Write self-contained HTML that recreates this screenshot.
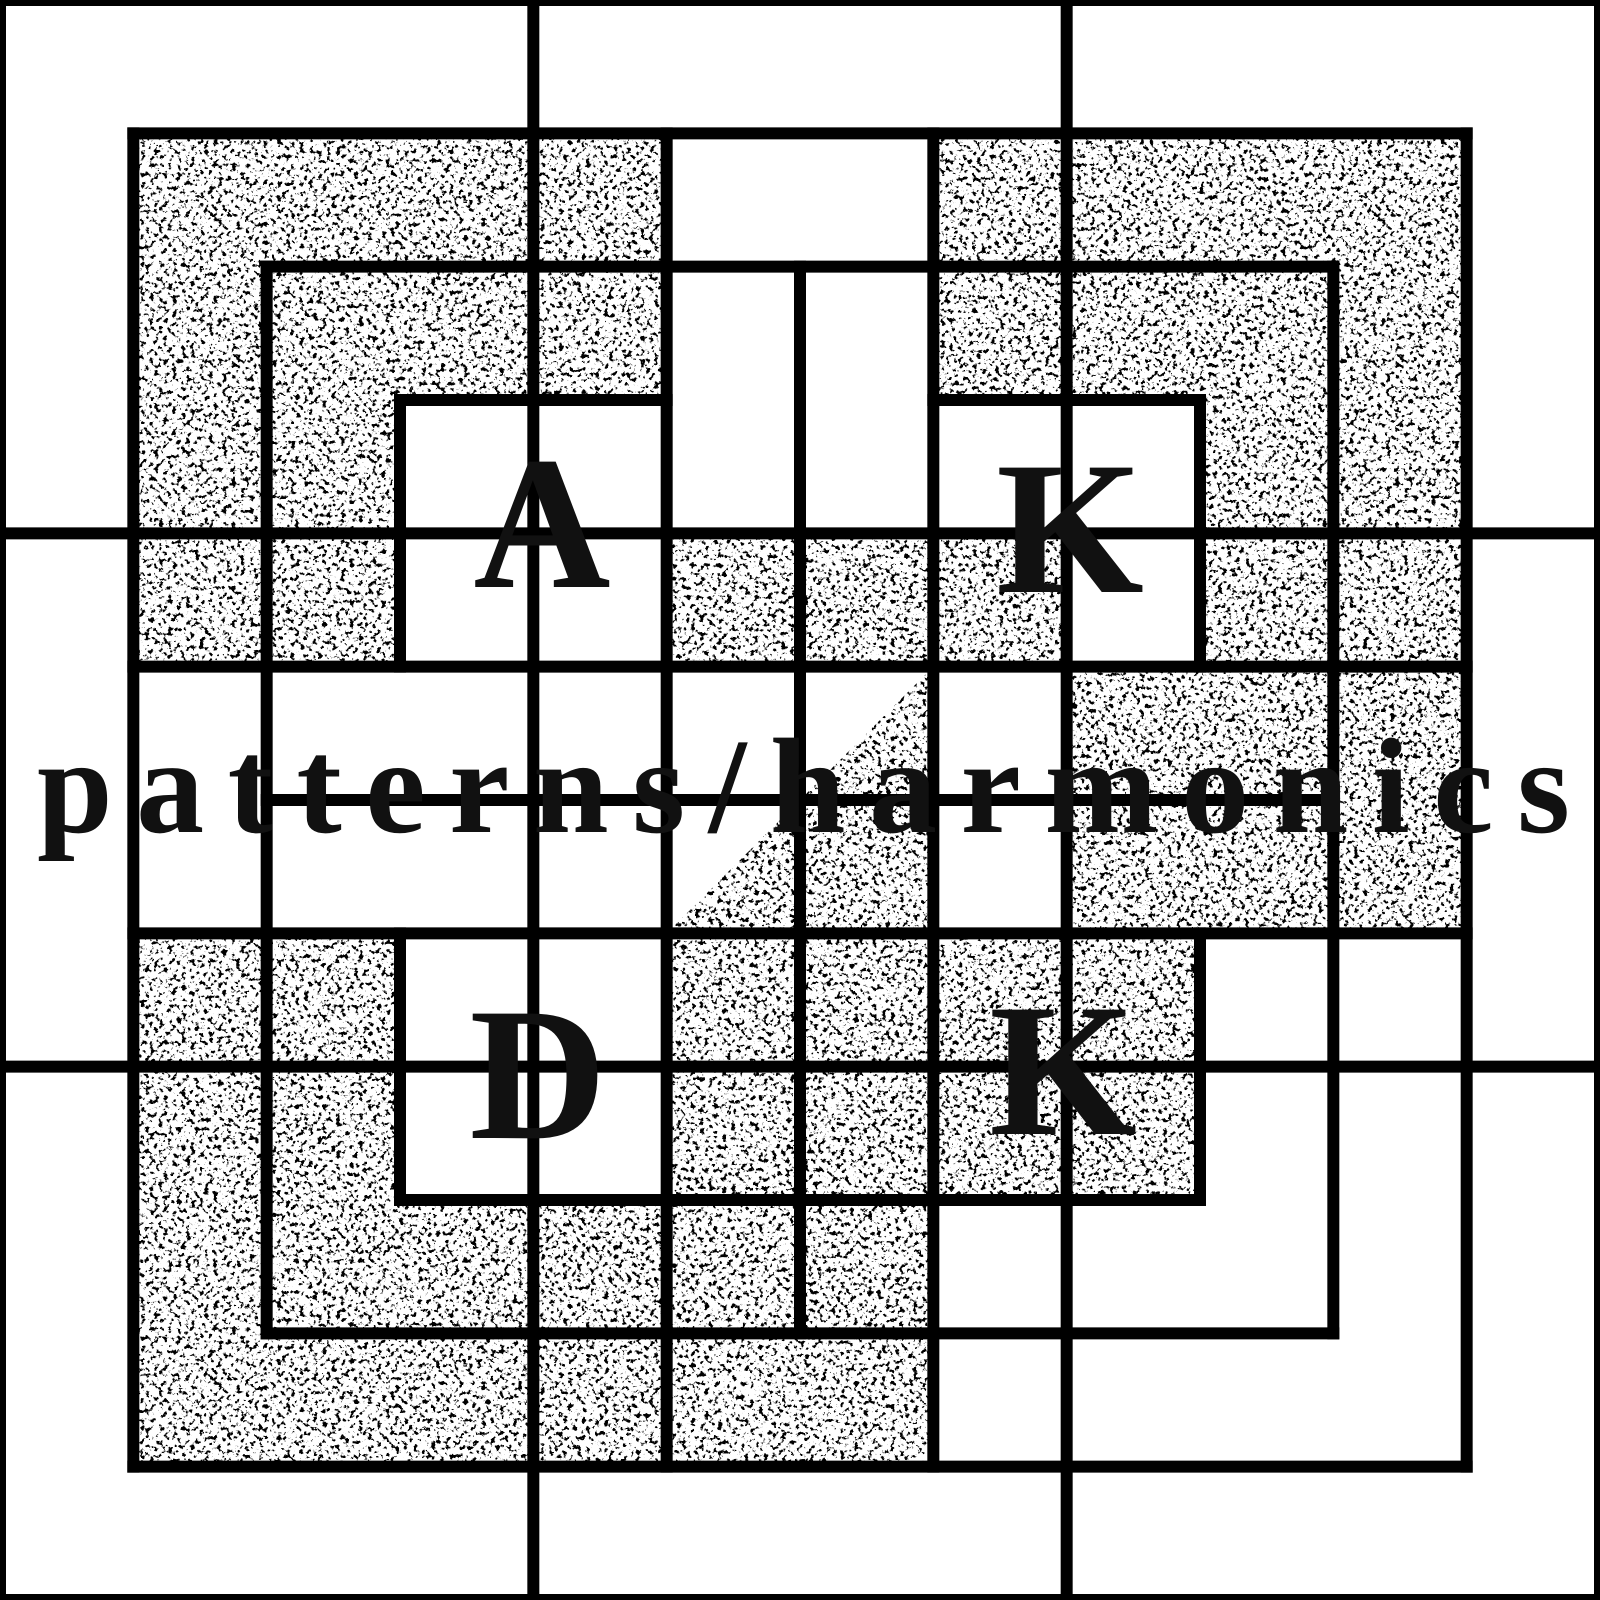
<!DOCTYPE html>
<html><head><meta charset="utf-8"><style>
html,body{margin:0;padding:0;background:#fff}
svg{display:block}
text{font-family:"Liberation Serif",serif;font-weight:bold;fill:#111}
</style></head><body>
<svg width="1600" height="1600" viewBox="0 0 1600 1600" xmlns="http://www.w3.org/2000/svg">
<defs>
<filter id="speckle" x="0" y="0" width="100%" height="100%">
<feTurbulence type="fractalNoise" baseFrequency="0.22" numOctaves="4" seed="7" result="n"/>
<feColorMatrix in="n" type="matrix" values="0 0 0 0 0  0 0 0 0 0  0 0 0 0 0  16 0 0 0 -9.2"/>
</filter>
<clipPath id="shadeClip">
<path id="shadePath" d=""/>
</clipPath>
</defs>
<rect width="1600" height="1600" fill="#fff"/>
<g clip-path="url(#shadeClip)">
<rect width="1600" height="1600" fill="#fff"/>
<rect width="1600" height="1600" fill="#000" filter="url(#speckle)"/>
</g>
<rect x="3" y="3" width="1594" height="1594" fill="none" stroke="#000" stroke-width="6"/>
<g id="lines" stroke="#000" stroke-width="12" stroke-linecap="square" fill="none"></g>
<text x="542" y="587" font-size="190" text-anchor="middle">A</text>
<text x="1070" y="592" font-size="190" text-anchor="middle">K</text>
<text x="538" y="1138" font-size="190" text-anchor="middle">D</text>
<text x="1063" y="1134" font-size="190" text-anchor="middle">K</text>
<text x="37" y="832" font-size="136" textLength="1533" lengthAdjust="spacing">patterns/harmonics</text>
</svg>
<script>
const U = 1600/12;
// shaded cells [col,row]
const shadedCells = [
 [1,1],[2,1],[3,1],[4,1],[7,1],[8,1],[9,1],[10,1],
 [1,2],[2,2],[3,2],[4,2],[7,2],[8,2],[9,2],[10,2],
 [1,3],[2,3],[9,3],[10,3],
 [1,4],[2,4],[5,4],[6,4],[7,4],[9,4],[10,4],
 [8,5],[9,5],[10,5],
 [8,6],[9,6],[10,6],
 [1,7],[2,7],[5,7],[6,7],[7,7],[8,7],
 [1,8],[2,8],[5,8],[6,8],[7,8],[8,8],
 [1,9],[2,9],[3,9],[4,9],[5,9],[6,9],
 [1,10],[2,10],[3,10],[4,10],[5,10],[6,10]
];
// triangle in grid units
const shadedTriangles = [[[7,5],[7,7],[5,7]]];
// line segments [x1,y1,x2,y2] in grid units
const segments = [
 [4,0,4,12],[8,0,8,12],[0,4,12,4],[0,8,12,8],
 [1,1,11,1],[1,11,11,11],[1,1,1,11],[11,1,11,11],
 [2,2,10,2],[2,10,10,10],[2,2,2,10],[10,2,10,10],
 [3,3,5,3],[7,3,9,3],[3,3,3,5],[9,3,9,5],[3,7,3,9],[9,7,9,9],[3,9,9,9],
 [5,1,5,11],[7,1,7,11],[6,2,6,10],
 [1,5,11,5],[1,7,11,7],[2,6,10,6]
];
let d='';
shadedCells.forEach(c=>{const x=c[0]*U,y=c[1]*U;d+=`M${x} ${y}h${U}v${U}h${-U}Z`;});
shadedTriangles.forEach(t=>{d+='M'+t.map(p=>(p[0]*U)+' '+(p[1]*U)).join('L')+'Z';});
document.getElementById('shadePath').setAttribute('d',d);
const g=document.getElementById('lines');
segments.forEach((s,i)=>{
 const l=document.createElementNS('http://www.w3.org/2000/svg','line');
 const cl=v=>Math.min(1597,Math.max(3,v*U));
 l.setAttribute('x1',cl(s[0]));l.setAttribute('y1',cl(s[1]));
 l.setAttribute('x2',cl(s[2]));l.setAttribute('y2',cl(s[3]));
 
 
 g.appendChild(l);
});
</script>
</body></html>
